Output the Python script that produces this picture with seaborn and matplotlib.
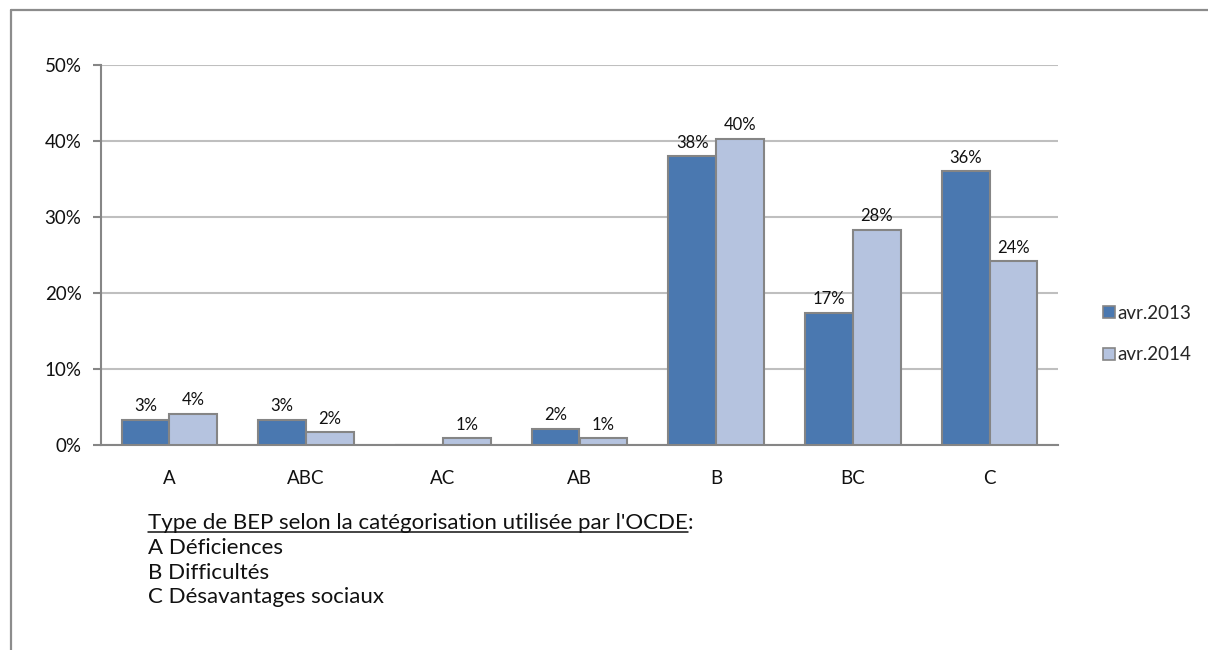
import matplotlib
matplotlib.use("Agg")
import matplotlib.pyplot as plt
from matplotlib.lines import Line2D
import numpy as np
import pandas as pd
import seaborn as sns

# Share of pupils by type of special educational need (BEP)
categories = ["A", "ABC", "AC", "AB", "B", "BC", "C"]
series_names = ["avr.2013", "avr.2014"]
values_2013 = [3.3, 3.3, 0.0, 2.1, 38.0, 17.4, 36.0]
values_2014 = [4.1, 1.7, 0.9, 0.9, 40.3, 28.3, 24.2]
y_ticks = [0, 10, 20, 30, 40, 50]
note_title = "Type de BEP selon la catégorisation utilisée par l'OCDE"
note_lines = ["A Déficiences", "B Difficultés", "C Désavantages sociaux"]

df = pd.DataFrame({
    "cat": categories * 2,
    "serie": [series_names[0]] * len(categories) + [series_names[1]] * len(categories),
    "val": values_2013 + values_2014,
})

sns.set_theme(style="white")
plt.rcParams["font.family"] = ["Lato", "DejaVu Sans"]

W, H = 1208, 650
fig = plt.figure(figsize=(W / 100, H / 100), dpi=100)
ax = fig.add_axes([101 / W, 1 - 445 / H, (1058 - 101) / W, (445 - 65) / H])

dark = "#4A78B0"
light = "#B5C3DF"
edge = "#858585"
axis_col = "#868686"
txt = "#111111"

sns.barplot(data=df, x="cat", y="val", hue="serie", order=categories,
            hue_order=series_names, palette=[dark, light], width=0.7, saturation=1,
            edgecolor=edge, linewidth=1.5, ax=ax, legend=False, zorder=3)

for cont in ax.containers:
    labs = ["" if b.get_height() == 0 else f"{b.get_height():.0f}%" for b in cont]
    ax.bar_label(cont, labels=labs, padding=4, fontsize=12, color=txt)

ax.set_xlim(-0.5, len(categories) - 0.5)
ax.set_ylim(0, 50)
ax.set_yticks(y_ticks)
ax.set_yticklabels([f"{t}%" for t in y_ticks], fontsize=13.5, color=txt)
ax.set_xticks(range(len(categories)))
ax.set_xticklabels(categories, fontsize=13.5, color=txt)
ax.set_xticks(np.arange(-0.5, len(categories)), minor=True)
ax.tick_params(axis="x", which="major", length=0, pad=18)
ax.tick_params(axis="x", which="minor", length=6, width=1.5, color=axis_col, direction="out")
ax.tick_params(axis="y", which="major", length=6, width=1.5, color=axis_col,
               direction="out", pad=8, left=True)
ax.set_xlabel("")
ax.set_ylabel("")

ax.yaxis.grid(True, color="#BFBFBF", linewidth=1.5, zorder=0)
ax.set_axisbelow(True)
for side in ["top", "right"]:
    ax.spines[side].set_visible(False)
for side in ["left", "bottom"]:
    ax.spines[side].set_color(axis_col)
    ax.spines[side].set_linewidth(1.5)

handles = [plt.Rectangle((0, 0), 1, 1, facecolor=c, edgecolor=edge, linewidth=1.2)
           for c in (dark, light)]
fig.legend(handles, series_names, loc="center left",
           bbox_to_anchor=(1094 / W, 1 - 334 / H), frameon=False, fontsize=13.5,
           handlelength=0.6, handleheight=0.6, handletextpad=0.15, labelspacing=1.3,
           borderpad=0)

# Notes under the chart
x0 = 148 / W
fs_note = 16
t = fig.text(x0, 1 - 523 / H, note_title, fontsize=fs_note, va="center", ha="left",
             color=txt)
fig.canvas.draw()
r = fig.canvas.get_renderer()
bb = t.get_window_extent(renderer=r).transformed(fig.transFigure.inverted())
fig.text(bb.x1, 1 - 523 / H, ":", fontsize=fs_note, va="center", ha="left", color=txt)
uy = bb.y0 + 0.06 * (bb.y1 - bb.y0)
fig.add_artist(Line2D([bb.x0, bb.x1], [uy, uy], transform=fig.transFigure,
                      color=txt, linewidth=1.1))
for i, line in enumerate(note_lines):
    fig.text(x0, 1 - (548 + 24.7 * i) / H, line, fontsize=fs_note, va="center", ha="left",
             color=txt)

# Outer frame
frame_col = "#8C8C8C"
fig.add_artist(Line2D([11 / W, 1], [1 - 10 / H, 1 - 10 / H], transform=fig.transFigure,
                      color=frame_col, linewidth=1.6))
fig.add_artist(Line2D([11 / W, 11 / W], [0, 1 - 10 / H], transform=fig.transFigure,
                      color=frame_col, linewidth=1.6))

fig.savefig("out.png", dpi=100)
